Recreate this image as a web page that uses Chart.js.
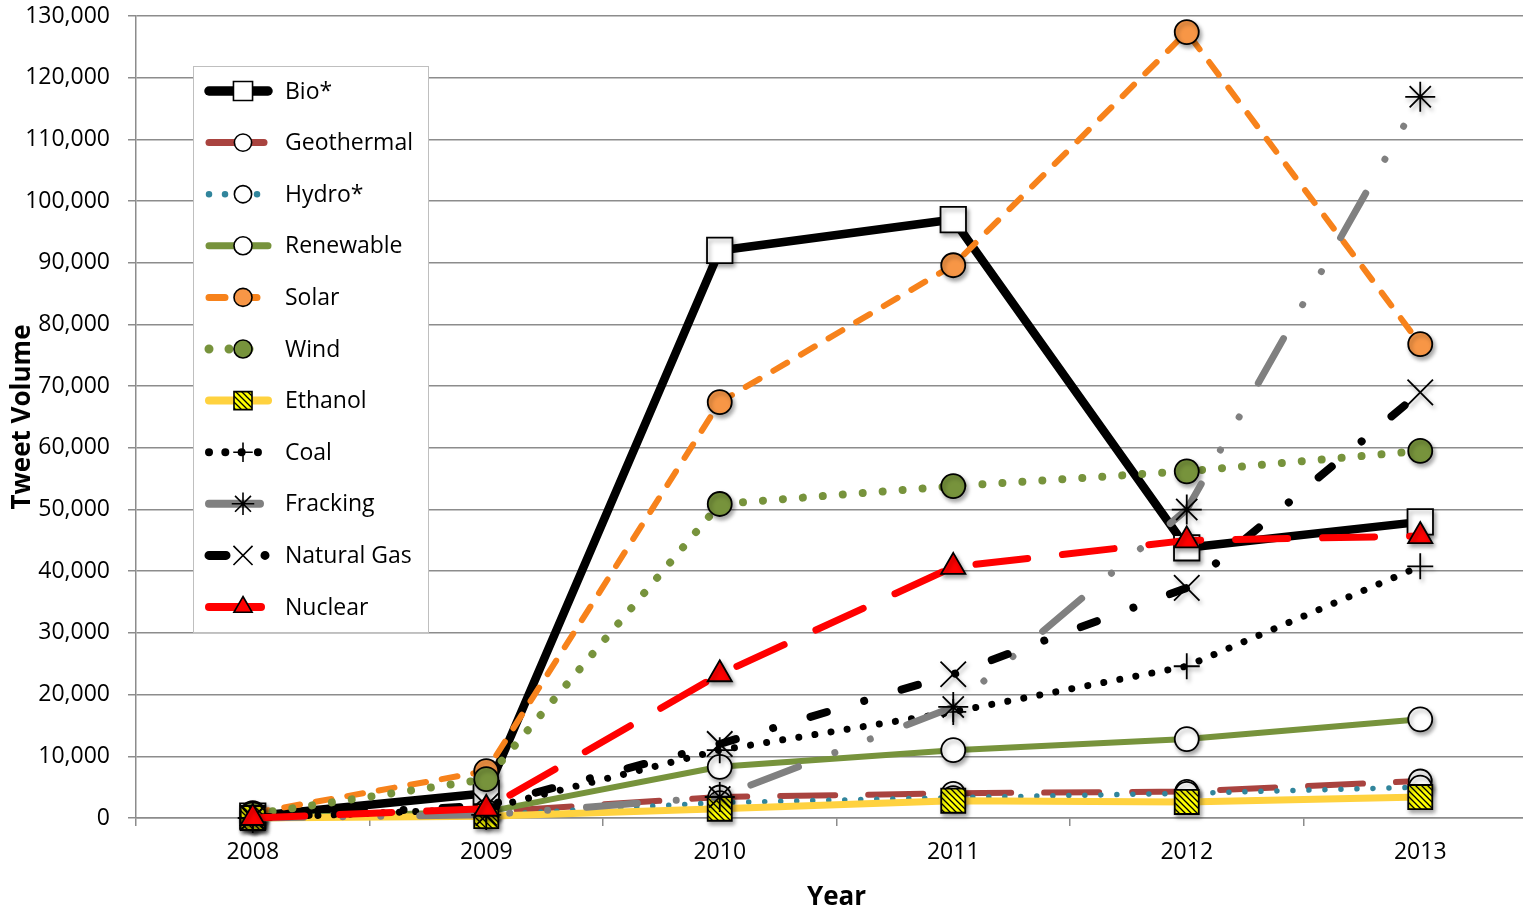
<!DOCTYPE html>
<html>
<head>
<meta charset="utf-8">
<script src="https://cdn.jsdelivr.net/npm/chart.js@4/dist/chart.umd.min.js"></script>
<style>
  html, body { margin: 0; padding: 0; background: #fff; overflow: hidden; }
  #wrap { width: 1545px; height: 913px; }
</style>
</head>
<body>
<div id="wrap"><canvas id="chart" width="1545" height="913"></canvas></div>
<script>
// Tweet volume per energy topic, 2008-2013
const years = ['2008', '2009', '2010', '2011', '2012', '2013'];
const bio        = [300, 4000, 92000, 97000, 43800, 48000];
const geothermal = [0, 1000, 3400, 4000, 4300, 6000];
const hydro      = [0, 500, 2500, 3300, 4000, 5000];
const renewable  = [0, 1000, 8300, 11000, 12800, 16000];
const solar      = [800, 7600, 67400, 89600, 127400, 76800];
const wind       = [600, 6300, 50900, 53800, 56200, 59500];
const ethanol    = [0, 300, 1500, 2800, 2600, 3400];
const coal       = [0, 1500, 11000, 17200, 24600, 40800];
const fracking   = [0, 500, 3400, 18000, 50000, 116900];
const naturalGas = [0, 2000, 12000, 23300, 37300, 69000];
const nuclear    = [0, 1500, 23300, 40700, 45000, 45700];
const yTicks = [0, 10000, 20000, 30000, 40000, 50000, 60000, 70000, 80000, 90000, 100000, 110000, 120000, 130000];

const FONT = "'Open Sans', 'Liberation Sans', sans-serif";

// yellow fill with black diagonal hatching for the ethanol marker
function hatchPattern() {
  const c = document.createElement('canvas');
  c.width = 6; c.height = 6;
  const g = c.getContext('2d');
  g.fillStyle = '#FFFF00';
  g.fillRect(0, 0, 6, 6);
  g.strokeStyle = '#000';
  g.lineWidth = 1.3;
  g.beginPath();
  g.moveTo(-1, -1); g.lineTo(7, 7);
  g.moveTo(-4, 2); g.lineTo(4, 10);
  g.moveTo(2, -4); g.lineTo(10, 4);
  g.stroke();
  return g.createPattern(c, 'repeat');
}
const hatch = hatchPattern();

function series(label, data, color, width, dash, style, radius, fill) {
  return {
    label, data,
    borderColor: color,
    borderWidth: width,
    borderDash: dash,
    borderCapStyle: 'round',
    borderJoinStyle: 'round',
    tension: 0,
    fill: false,
    clip: false,
    pointStyle: style,
    pointRadius: radius,
    pointHoverRadius: radius,
    pointBackgroundColor: fill,
    pointBorderColor: '#000',
    pointBorderWidth: 1.8
  };
}

const datasets = [
  series('Bio*',        bio,        '#000000', 8.5, [],                    'rect',     18, '#FFFFFF'),
  series('Geothermal',  geothermal, '#A9433F', 6, [55, 33],                'circle',   11.5, '#FFFFFF'),
  series('Hydro*',      hydro,      '#31859C', 5.5, [0.01, 16],            'circle',   11.5, '#FFFFFF'),
  series('Renewable',   renewable,  '#77933C', 6, [],                      'circle',   12, '#FFFFFF'),
  series('Solar',       solar,      '#F7821B', 6, [16, 16],                'circle',   12, '#F79646'),
  series('Wind',        wind,       '#77933C', 8, [0.01, 20],              'circle',   12, '#77933C'),
  series('Ethanol',     ethanol,    '#FFD23F', 7, [],                      'rect',     17, hatch),
  series('Coal',        coal,       '#000000', 7, [0.01, 16.3],            'cross',    13, '#000000'),
  series('Fracking',    fracking,   '#808080', 7, [51, 39, 0.01, 38, 0.01, 39], 'star', 15, '#000000'),
  series('Natural Gas', naturalGas, '#000000', 8, [17, 39, 0.01, 39],      'crossRot', 18, '#000000'),
  series('Nuclear',     nuclear,    '#FF0000', 7, [52, 35],                'triangle', 14, '#FF0000')
];
// later series are painted over earlier ones
datasets.forEach((d, i) => { d.order = datasets.length - 1 - i; });

// soft drop shadow under the markers only
const basePointDraw = Chart.PointElement.prototype.draw;
Chart.PointElement.prototype.draw = function (ctx, area) {
  ctx.save();
  ctx.shadowColor = 'rgba(0,0,0,0.35)';
  ctx.shadowBlur = 4;
  ctx.shadowOffsetX = 2;
  ctx.shadowOffsetY = 3;
  basePointDraw.call(this, ctx, area);
  ctx.restore();
};

// boxed legend with line sample and marker for each series
const boxLegend = {
  id: 'boxLegend',
  afterDraw(chart) {
    const ctx = chart.ctx;
    const x0 = 193, y0 = 66, w = 235, h = 566;
    ctx.save();
    ctx.fillStyle = '#FFFFFF';
    ctx.fillRect(x0, y0, w, h);
    ctx.strokeStyle = '#BFBFBF';
    ctx.lineWidth = 1;
    ctx.strokeRect(x0 + 0.5, y0 + 0.5, w, h);
    const ds = chart.data.datasets;
    const step = (607 - 91) / (ds.length - 1);
    ds.forEach((d, i) => {
      const y = 91 + i * step;
      ctx.save();
      ctx.strokeStyle = d.borderColor;
      ctx.lineWidth = d.borderWidth + 1;
      ctx.lineCap = 'round';
      ctx.setLineDash(d.borderDash);
      ctx.beginPath();
      ctx.moveTo(209, y);
      ctx.lineTo(268, y);
      ctx.stroke();
      ctx.restore();
      ctx.save();
      ctx.fillStyle = d.pointBackgroundColor;
      ctx.strokeStyle = '#000';
      ctx.lineWidth = 1.6;
      ctx.setLineDash([]);
      Chart.helpers.drawPoint(ctx, {
        pointStyle: d.pointStyle, rotation: 0,
        radius: d.pointRadius * 0.75, borderWidth: 1.6
      }, 243, y);
      ctx.restore();
      ctx.fillStyle = '#000';
      ctx.font = '23px ' + FONT;
      ctx.textAlign = 'left';
      ctx.textBaseline = 'middle';
      ctx.fillText(d.label, 285, y + 1);
    });
    ctx.restore();
  }
};

new Chart(document.getElementById('chart'), {
  type: 'line',
  data: { labels: years, datasets },
  options: {
    responsive: false,
    animation: false,
    events: [],
    layout: { autoPadding: false, padding: { top: 16, right: 8, left: 0, bottom: 0 } },
    plugins: { legend: { display: false }, tooltip: { enabled: false } },
    scales: {
      x: {
        type: 'category',
        offset: true,
        grid: { offset: true, drawOnChartArea: false, drawTicks: true, tickLength: 8, color: '#8C8C8C', lineWidth: 1.5 },
        border: { display: true, color: '#8C8C8C', width: 1.5 },
        ticks: { color: '#000', font: { family: FONT, size: 23 }, padding: 13, maxRotation: 0 },
        title: { display: true, text: 'Year', color: '#000', font: { family: FONT, size: 26, weight: 'bold' }, padding: { top: 0, bottom: 0 } },
        afterFit(scale) {
          scale.height = 95;
          scale.paddingLeft = 0;
          scale.paddingRight = 0;
        }
      },
      y: {
        min: 0, max: 130000,
        afterBuildTicks(scale) { scale.ticks = yTicks.map(v => ({ value: v })); },
        grid: { color: '#8C8C8C', lineWidth: 1.5, tickLength: 8, drawTicks: true },
        border: { display: true, color: '#8C8C8C', width: 1.5 },
        ticks: {
          color: '#000', font: { family: FONT, size: 23 }, padding: 18,
          callback: v => v.toLocaleString('en-US')
        },
        title: { display: true, text: 'Tweet Volume', color: '#000', font: { family: FONT, size: 26, weight: 'bold' }, padding: { top: 7, bottom: 0 } },
        afterFit(scale) {
          scale.width = 136;
          scale.paddingTop = 0;
          scale.paddingBottom = 0;
        }
      }
    }
  },
  plugins: [boxLegend]
});
</script>
</body>
</html>
